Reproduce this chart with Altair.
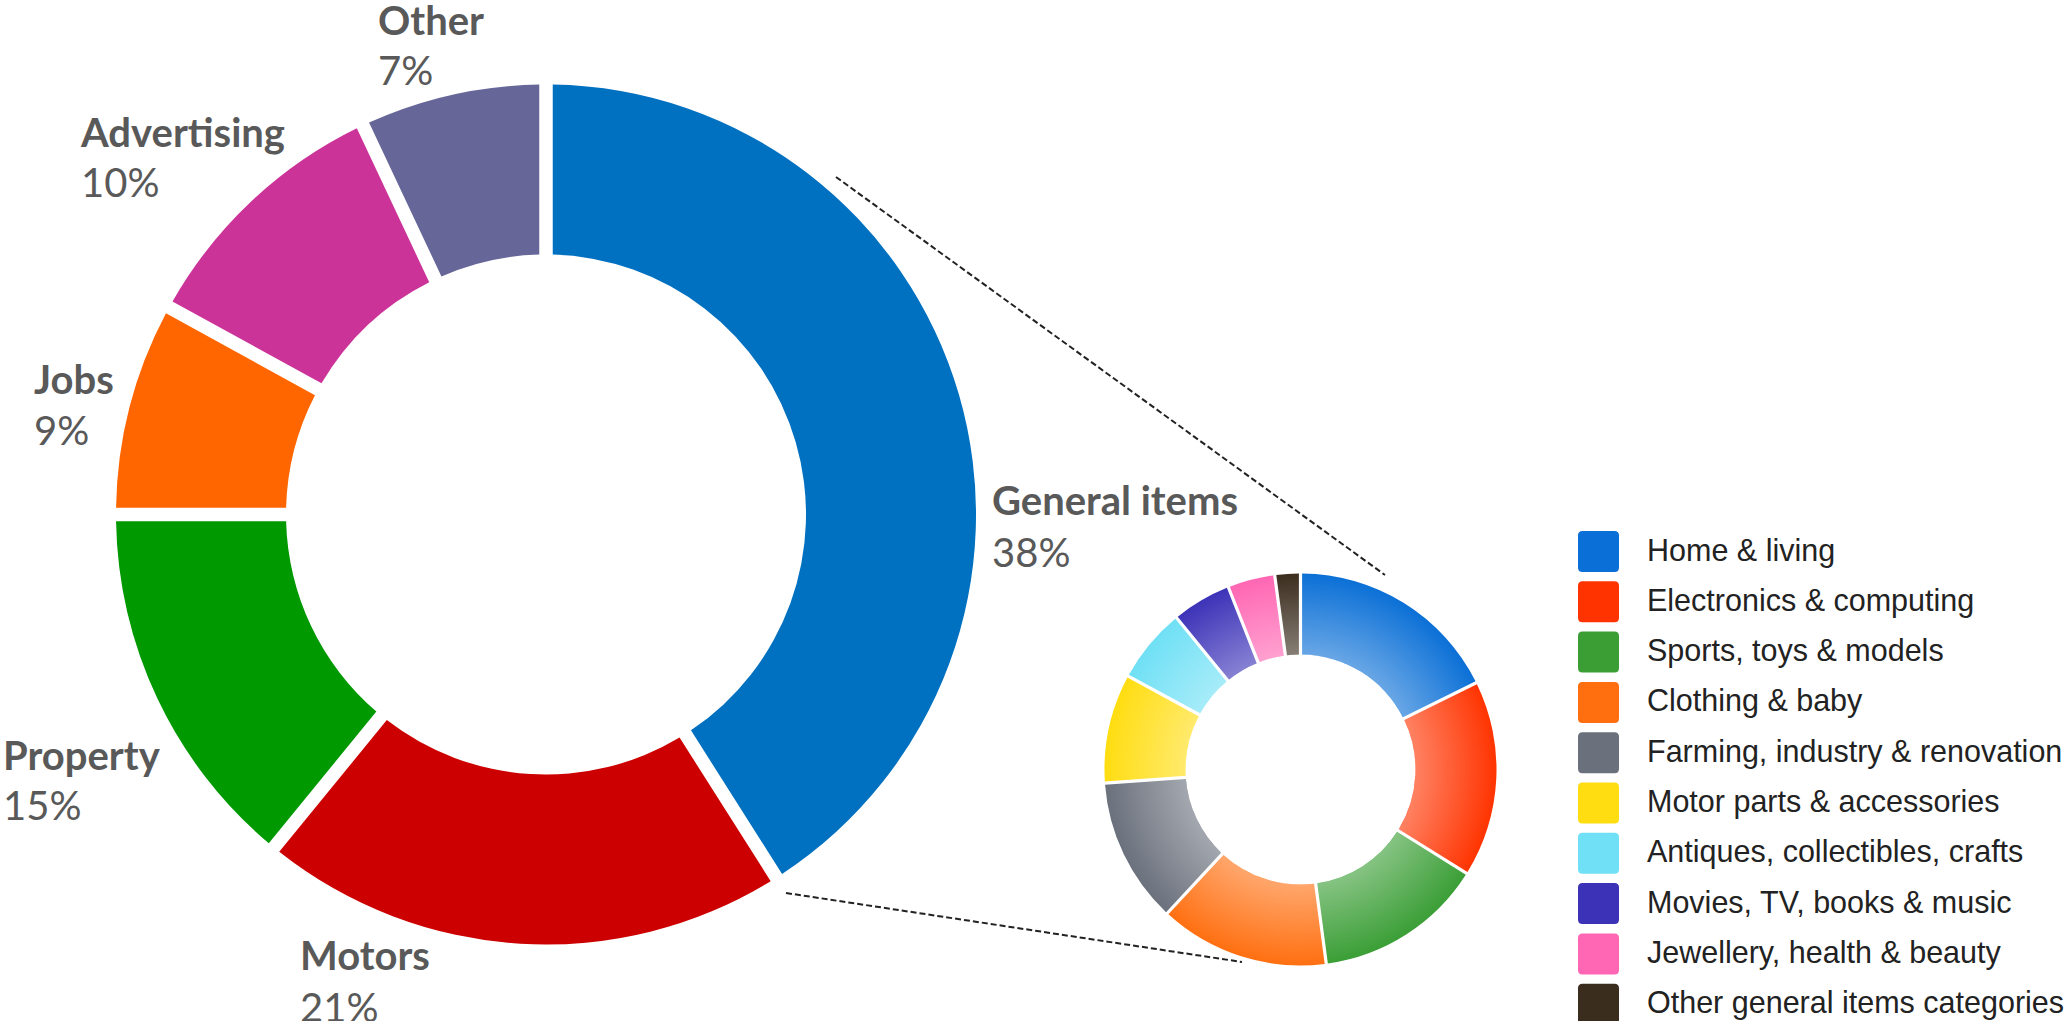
import math
import altair as alt
import pandas as pd

# ---------------- data ----------------
# Main categories (big donut), clockwise from 12 o'clock
main_cats = ["General items", "Motors", "Property", "Jobs", "Advertising", "Other"]
main_pct_labels = ["38%", "21%", "15%", "9%", "10%", "7%"]       # printed labels
main_arc_share = [41.0, 19.9, 14.1, 8.0, 10.0, 7.0]              # slice sizes as drawn
main_colors = ["#0070C0", "#CC0000", "#009900", "#FF6600", "#CC3399", "#666699"]

# General items breakdown (small donut), clockwise from 12 o'clock
sub_cats = [
    "Home & living",
    "Electronics & computing",
    "Sports, toys & models",
    "Clothing & baby",
    "Farming, industry & renovation",
    "Motor parts & accessories",
    "Antiques, collectibles, crafts",
    "Movies, TV, books & music",
    "Jewellery, health & beauty",
    "Other general items categories",
]
sub_share = [17.7, 16.2, 14.0, 14.0, 12.0, 9.0, 6.2, 4.9, 3.9, 2.1]
sub_colors = ["#0a6fd6", "#ff3300", "#3a9e35", "#ff6f10", "#6a707c",
              "#ffdd10", "#6fe0f5", "#3c32b8", "#ff66b3", "#3b2d1e"]

# ---------------- layout (pixels) ----------------
BIG_CX, BIG_CY, BIG_RO, BIG_RI = 546, 514.5, 430, 260
SM_CX, SM_CY, SM_RO, SM_RI = 1300.5, 769.5, 196, 115
# label anchors (left x, name baseline, percent baseline)
label_x = [992, 300, 3, 34, 81, 378]
label_y_name = [515, 970, 770, 394, 147, 35]
label_y_pct = [567, 1022, 820, 445, 197, 85]

W, H = 2066, 1021

main_df = pd.DataFrame({
    "cat": main_cats, "share": main_arc_share, "idx": list(range(len(main_cats))),
})
sub_df = pd.DataFrame({
    "cat": sub_cats, "share": sub_share, "idx": list(range(len(sub_cats))),
})
lab_df = pd.DataFrame({
    "name": main_cats, "pct": main_pct_labels,
    "lx": label_x, "ly1": label_y_name, "ly2": label_y_pct,
})

big = alt.Chart(main_df).mark_arc(
    innerRadius=BIG_RI, outerRadius=BIG_RO, padAngle=13.5 / math.hypot(BIG_RI, BIG_RO)
).encode(
    theta=alt.Theta("share:Q", stack=True),
    order=alt.Order("idx:Q", sort="ascending"),
    color=alt.Color("cat:N", scale=alt.Scale(domain=main_cats, range=main_colors), legend=None),
    x=alt.value(BIG_CX), y=alt.value(BIG_CY),
)

rounded_sq = ("M -0.78 -1 L 0.78 -1 Q 1 -1 1 -0.78 L 1 0.78 Q 1 1 0.78 1 "
              "L -0.78 1 Q -1 1 -1 0.78 L -1 -0.78 Q -1 -1 -0.78 -1 Z")

small = alt.Chart(sub_df).mark_arc(
    innerRadius=SM_RI, outerRadius=SM_RO, padAngle=3.2 / math.hypot(SM_RI, SM_RO)
).encode(
    theta=alt.Theta("share:Q", stack=True),
    order=alt.Order("idx:Q", sort="ascending"),
    color=alt.Color(
        "cat:N",
        scale=alt.Scale(domain=sub_cats, range=sub_colors),
        title=None,
        legend=alt.Legend(
            orient="none", legendX=1578, legendY=531, padding=0,
            symbolType=rounded_sq, symbolSize=1681, symbolStrokeWidth=0,
            symbolOpacity=1,
            labelFont="Liberation Sans", labelFontSize=30.5, labelColor="#222222",
            labelOffset=28, labelLimit=0, rowPadding=9.3,
        ),
    ),
    x=alt.value(SM_CX), y=alt.value(SM_CY),
)

shine = alt.Chart(pd.DataFrame({"k": [0]})).mark_arc(
    innerRadius=SM_RI, outerRadius=SM_RO + 1, theta=0, theta2=2 * math.pi,
    fill=alt.RadialGradient(
        gradient="radial",
        stops=[alt.GradientStop(offset=0, color="rgba(255,255,255,0.38)"),
               alt.GradientStop(offset=1, color="rgba(255,255,255,0)")],
        x1=0.5, y1=0.5, r1=SM_RI / (2 * SM_RO), x2=0.5, y2=0.5, r2=0.5,
    ),
).encode(x=alt.value(SM_CX), y=alt.value(SM_CY))

dash1 = alt.Chart(pd.DataFrame({"k": [0]})).mark_rule(
    strokeDash=[6, 3], strokeWidth=2, color="#222222"
).encode(x=alt.value(836), y=alt.value(177), x2=alt.value(1385), y2=alt.value(575))
dash2 = alt.Chart(pd.DataFrame({"k": [0]})).mark_rule(
    strokeDash=[6, 3], strokeWidth=2, color="#222222"
).encode(x=alt.value(786), y=alt.value(893), x2=alt.value(1242), y2=alt.value(962))

names = alt.Chart(lab_df).mark_text(
    align="left", baseline="alphabetic", font="Lato", fontWeight="bold",
    fontSize=40, color="#595959"
).encode(
    x=alt.X("lx:Q", scale=None, axis=None),
    y=alt.Y("ly1:Q", scale=None, axis=None),
    text="name:N",
)
pcts = alt.Chart(lab_df).mark_text(
    align="left", baseline="alphabetic", font="Lato", fontWeight="normal",
    fontSize=40, color="#595959"
).encode(
    x=alt.X("lx:Q", scale=None, axis=None),
    y=alt.Y("ly2:Q", scale=None, axis=None),
    text="pct:N",
)

chart = alt.layer(big, small, shine, dash1, dash2, names, pcts).resolve_scale(
    color="independent", theta="independent"
).properties(
    width=W, height=H, padding=0, autosize="none", background="white"
).configure_view(stroke=None)

chart.save("out.html", embed_options={"renderer": "svg", "actions": False})
